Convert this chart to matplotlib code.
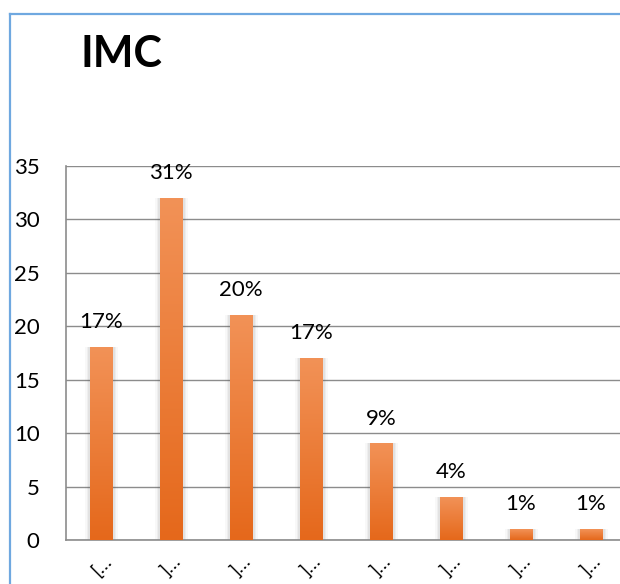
import numpy as np
import matplotlib
matplotlib.use("Agg")
import matplotlib.pyplot as plt
from matplotlib.colors import LinearSegmentedColormap
from matplotlib.lines import Line2D
from matplotlib.patches import Rectangle

plt.rcParams['font.family'] = ['Lato', 'DejaVu Sans']

# effectifs par classe d'IMC
categories = ["[…", "]…", "]…", "]…", "]…", "]…", "]…", "]…"]
counts = [18, 32, 21, 17, 9, 4, 1, 1]
yticks = [0, 5, 10, 15, 20, 25, 30, 35]

total = sum(counts)
labels = ["{:d}%".format(int(round(100.0 * c / total))) for c in counts]

W, H = 620, 584
fig = plt.figure(figsize=(W / 100, H / 100), dpi=100)
ax = fig.add_axes([66 / W, 44 / H, 560 / W, 374 / H])

bar_w = 0.325
px = 8.0 / 560  # une unite de pixel en x
orange = LinearSegmentedColormap.from_list("orange", ["#E5681B", "#F29257"])
grad = np.linspace(0, 1, 256).reshape(-1, 1)

xs = np.arange(len(counts))
for x, v in zip(xs, counts):
    # ombre douce autour de la barre
    for k, a in [(7, 0.04), (5, 0.06), (3, 0.08)]:
        ax.add_patch(Rectangle((x - bar_w / 2 - k * px * 0.6, 0),
                               bar_w + k * px * 1.4, v + 0.05,
                               facecolor="#555555", edgecolor="none",
                               alpha=a, zorder=2))
    ax.imshow(grad, cmap=orange, origin="lower", aspect="auto",
              extent=[x - bar_w / 2, x + bar_w / 2, 0, v], zorder=3)
    ax.annotate(labels[x], (x, v), xytext=(0, 11), textcoords="offset points",
                ha="center", va="bottom", fontsize=16, color="black", zorder=4)

ax.set_xlim(-0.5, len(counts) - 0.5)
ax.set_ylim(0, 35)
ax.set_yticks(yticks)
ax.set_xticks(xs)
ax.set_xticklabels(categories, rotation=45, ha="center", va="top", fontsize=14)
ax.tick_params(axis="y", length=0, pad=19, labelsize=16)
ax.tick_params(axis="x", length=0, pad=9)
for lab in ax.get_yticklabels():
    lab.set_horizontalalignment("right")

ax.yaxis.grid(True, color="#8C8C8C", linewidth=1)
ax.set_axisbelow(True)
for s in ["top", "right"]:
    ax.spines[s].set_visible(False)
for s in ["left", "bottom"]:
    ax.spines[s].set_color("#8C8C8C")
    ax.spines[s].set_linewidth(1.2)

fig.text(80 / W, 1 - 67 / H, "IMC", fontsize=31, fontweight="bold",
         ha="left", va="baseline")

# cadre du graphique
frame = "#6FA8E0"
fig.add_artist(Line2D([10 / W, 10 / W], [0, 1 - 14 / H], color=frame, lw=1.6))
fig.add_artist(Line2D([10 / W, 1], [1 - 14 / H, 1 - 14 / H], color=frame, lw=1.6))

fig.savefig("out.png", dpi=100)
